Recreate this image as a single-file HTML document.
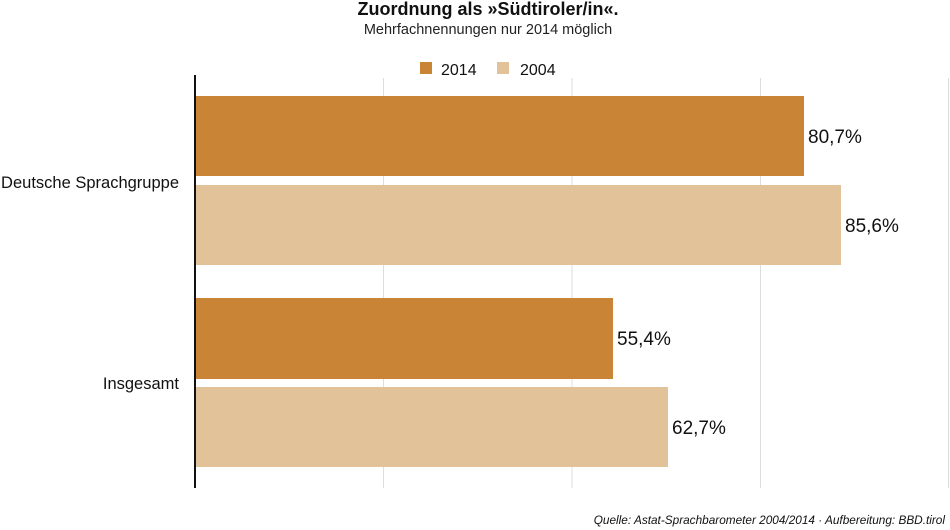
<!DOCTYPE html>
<html><head><meta charset="utf-8"><style>
body{margin:0;background:#fff;}
svg{display:block;font-family:"Liberation Sans",sans-serif;}
</style></head><body>
<svg width="950" height="530" xmlns="http://www.w3.org/2000/svg">
<rect width="950" height="530" fill="#fff"/>
<text x="488" y="15" text-anchor="middle" font-size="18" font-weight="bold" fill="#111">Zuordnung als »Südtiroler/in«.</text>
<text x="488" y="34" text-anchor="middle" font-size="14.5" fill="#222">Mehrfachnennungen nur 2014 möglich</text>
<rect x="420" y="62" width="12" height="12" fill="#c98535"/>
<text x="441" y="75" font-size="16" fill="#111">2014</text>
<rect x="497" y="62" width="12" height="12" fill="#e2c399"/>
<text x="520" y="75" font-size="16" fill="#111">2004</text>
<g stroke="#ddd" stroke-width="1">
<line x1="383.5" y1="78" x2="383.5" y2="488"/>
<line x1="572" y1="78" x2="572" y2="488"/>
<line x1="760.5" y1="78" x2="760.5" y2="488"/>
<line x1="948.5" y1="78" x2="948.5" y2="488"/>
</g>
<rect x="196" y="96" width="608" height="80" fill="#c98535"/>
<rect x="196" y="185" width="645" height="80" fill="#e2c399"/>
<rect x="196" y="298" width="417" height="81" fill="#c98535"/>
<rect x="196" y="387" width="472" height="80" fill="#e2c399"/>
<line x1="195" y1="75" x2="195" y2="488" stroke="#111" stroke-width="2"/>
<g font-size="19" fill="#111">
<text x="808" y="143">80,7%</text>
<text x="845" y="232">85,6%</text>
<text x="617" y="345">55,4%</text>
<text x="672" y="434">62,7%</text>
</g>
<g font-size="16.5" fill="#111" text-anchor="end">
<text x="179" y="188">Deutsche Sprachgruppe</text>
<text x="179" y="389">Insgesamt</text>
</g>
<text x="945" y="524" text-anchor="end" font-size="11.8" font-style="italic" fill="#111">Quelle: Astat-Sprachbarometer 2004/2014 · Aufbereitung: BBD.tirol</text>
</svg>
</body></html>
